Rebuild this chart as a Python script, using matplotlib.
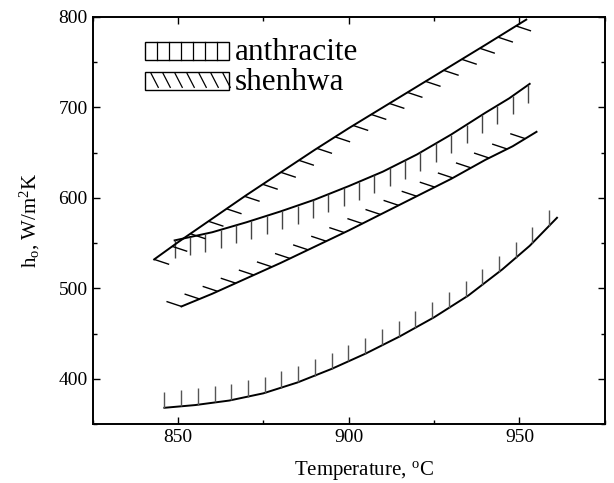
import matplotlib
matplotlib.use('Agg')
import matplotlib.pyplot as plt
from matplotlib.collections import LineCollection
from matplotlib.patches import Rectangle
from matplotlib.ticker import MultipleLocator
import numpy as np

plt.rcParams['font.family'] = ['Liberation Serif', 'DejaVu Serif']
plt.rcParams['mathtext.fontset'] = 'custom'
plt.rcParams['mathtext.rm'] = 'Liberation Serif'
plt.rcParams['mathtext.it'] = 'Liberation Serif:italic'

# band boundaries (temperature in C, h_o in W/m2K)
anth_low_t = [846, 855, 865, 875, 885, 895, 905, 915, 925, 935, 945, 953, 961]
anth_low_h = [368, 371, 376, 384, 396, 411, 428, 447, 468, 492, 521, 547, 578]
anth_up_t = [849, 860, 870, 880, 890, 900, 910, 920, 930, 940, 947, 953]
anth_up_h = [553, 562, 573, 585, 598, 613, 629, 648, 670, 694, 710, 726]
shen_up_t = [843, 850, 860, 870, 880, 890, 900, 910, 920, 930, 940, 952]
shen_up_h = [532, 551, 577, 603, 628, 653, 677, 700, 723, 746, 769, 797]
shen_low_t = [851, 860, 870, 880, 890, 900, 910, 920, 930, 940, 948, 955]
shen_low_h = [480, 494, 511, 528, 546, 564, 583, 602, 621, 642, 657, 673]

xticks = [850, 900, 950]
yticks = [400, 500, 600, 700, 800]
labels = ['anthracite', 'shenhwa']


def edge(ax, t, h, step, dx, dy, color):
    # boundary line plus short hatch strokes on the inner side
    ax.plot(t, h, color='black', lw=1.4)
    tt = np.arange(t[0], t[-1], step)
    hh = np.interp(tt, t, h)
    segs = [[(a, b), (a + dx, b + dy)] for a, b in zip(tt, hh)]
    ax.add_collection(LineCollection(segs, colors=color, linewidths=1.0))


fig = plt.figure(figsize=(6.14, 4.83), dpi=100)
ax = fig.add_axes([0.151, 0.122, 0.834, 0.843])

edge(ax, anth_low_t, anth_low_h, 4.9, 0, 18, '#555555')
edge(ax, anth_up_t, anth_up_h, 4.5, 0, -20, '#444444')
edge(ax, shen_up_t, shen_up_h, 5.3, 4.4, -5.5, 'black')
edge(ax, shen_low_t, shen_low_h, 5.3, -4.4, 5.5, 'black')

# hand-made legend
x0, x1 = 0.102, 0.266
rows = [(0.894, 0.9386), (0.821, 0.865)]
for i, (yb, yt) in enumerate(rows):
    ax.add_patch(Rectangle((x0, yb), x1 - x0, yt - yb, transform=ax.transAxes,
                           fill=False, ec='black', lw=1.0))
    n = 7
    w = (x1 - x0) / n
    for k in range(n - 1 if i == 0 else n):
        if i == 0:
            xs = x0 + (k + 1) * w
            ax.plot([xs, xs], [yb, yt], transform=ax.transAxes, color='black', lw=0.9)
        else:
            xs = x0 + 0.012 + k * w
            ax.plot([xs, xs + 0.014], [yt - 0.004, yb + 0.006], transform=ax.transAxes,
                    color='black', lw=0.9)
    ax.text(0.278, (yb + yt) / 2 - 0.004, labels[i], transform=ax.transAxes,
            fontsize=22.5, va='center', ha='left')

ax.set_xlim(825, 975)
ax.set_ylim(350, 800)
ax.set_xticks(xticks)
ax.set_yticks(yticks)
ax.xaxis.set_minor_locator(MultipleLocator(25))
ax.yaxis.set_minor_locator(MultipleLocator(50))
ax.tick_params(which='both', direction='in', top=True, right=True, labelsize=14)
ax.tick_params(which='major', length=5, width=1)
ax.tick_params(which='minor', length=3, width=1)
for s in ax.spines.values():
    s.set_linewidth(1.4)

ax.set_xlabel(r'Temperature, $^{\rm o}$C', fontsize=15, labelpad=8)
ax.xaxis.set_label_coords(0.53, -0.085)
ax.set_ylabel(r'h$_{\rm o}$, W/m$^{\rm 2}$K', fontsize=15, labelpad=12)

fig.savefig('out.png', dpi=100)
